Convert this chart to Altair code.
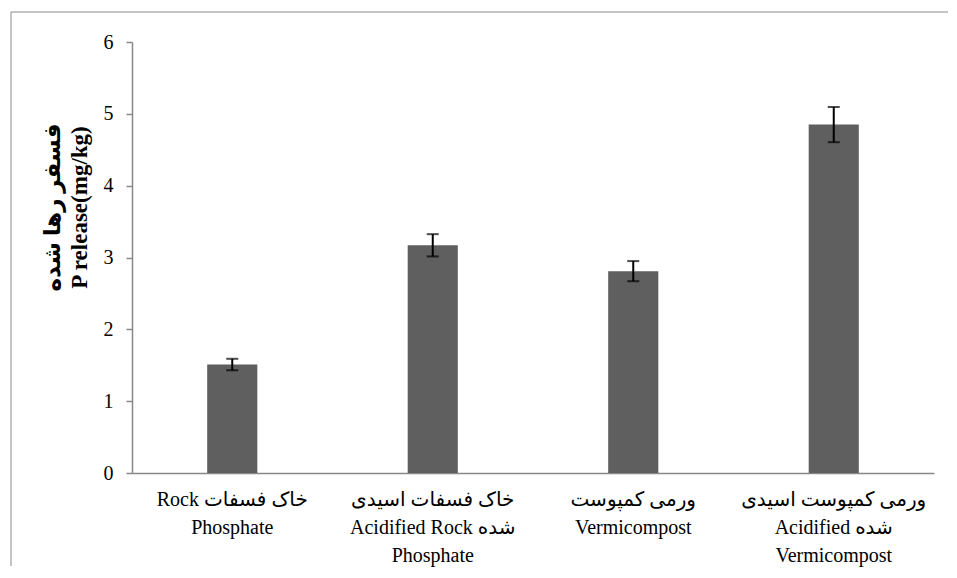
import altair as alt
import pandas as pd

# Category labels (lines separated by "|")
categories = [
    "Rock خاک فسفات|Phosphate",
    "خاک فسفات اسیدی|Acidified Rock شده|Phosphate",
    "ورمی کمپوست|Vermicompost",
    "ورمی کمپوست اسیدی|Acidified شده|Vermicompost",
]
values = [1.51, 3.17, 2.81, 4.85]
errors = [0.08, 0.155, 0.14, 0.245]

df = pd.DataFrame({"cat": categories, "val": values, "err": errors})
df["lo"] = df["val"] - df["err"]
df["hi"] = df["val"] + df["err"]

FONT = "Liberation Serif, DejaVu Sans"
AXIS_COLOR = "#888888"

xenc = alt.X(
    "cat:N",
    sort=categories,
    scale=alt.Scale(paddingInner=0.75, paddingOuter=0.375),
    axis=alt.Axis(
        title=None,
        labelAngle=0,
        ticks=False,
        labelExpr="split(datum.label, '|')",
        labelFont=FONT,
        labelFontSize=20,
        labelColor="#000000",
        labelLineHeight=28,
        labelPadding=16,
        labelBaseline="top",
        domainColor=AXIS_COLOR,
        domainWidth=1.5,
        labelLimit=0,
    ),
)

yaxis = alt.Axis(
    title=["فسفر رها شده", "P release(mg/kg)"],
    titleFont=FONT,
    titleFontSize=23,
    titleFontWeight="bold",
    titleColor="#000000",
    titleLineHeight=27,
    titleAngle=-90,
    titleX=-68,
    titleY=165,
    titleBaseline="bottom",
    titleAlign="center",
    values=[0, 1, 2, 3, 4, 5, 6],
    format="d",
    grid=False,
    labelFont=FONT,
    labelFontSize=20,
    labelColor="#000000",
    labelPadding=13,
    tickSize=6,
    tickColor=AXIS_COLOR,
    tickWidth=1.5,
    domainColor=AXIS_COLOR,
    domainWidth=1.5,
)

base = alt.Chart(df)

bars = base.mark_bar(color="#5f5f5f").encode(
    x=xenc,
    y=alt.Y("val:Q", scale=alt.Scale(domain=[0, 6], nice=False), axis=yaxis),
)

rule = base.mark_rule(color="#000000", strokeWidth=2).encode(
    x=alt.X("cat:N", sort=categories),
    y="lo:Q",
    y2="hi:Q",
)

caps_hi = base.mark_tick(color="#000000", thickness=2, size=12, orient="horizontal").encode(
    x=alt.X("cat:N", sort=categories),
    y="hi:Q",
)
caps_lo = base.mark_tick(color="#000000", thickness=2, size=12, orient="horizontal").encode(
    x=alt.X("cat:N", sort=categories),
    y="lo:Q",
)

frame_top = alt.Chart(pd.DataFrame({"k": [0]})).mark_rule(color="#8a8a8a", strokeWidth=1).encode(
    x=alt.value(-121), x2=alt.value(816), y=alt.value(-30)
)
frame_left = alt.Chart(pd.DataFrame({"k": [0]})).mark_rule(color="#8a8a8a", strokeWidth=1).encode(
    x=alt.value(-121), y=alt.value(-30), y2=alt.value(524)
)

chart = (
    alt.layer(bars, rule, caps_hi, caps_lo, frame_top, frame_left)
    .properties(
        width=802,
        height=431,
        padding={"left": 2, "top": 3, "right": 0, "bottom": 0},
        background="white",
    )
    .configure_view(stroke=None)
)

chart.save("out.html", embed_options={"renderer": "svg", "actions": False})
